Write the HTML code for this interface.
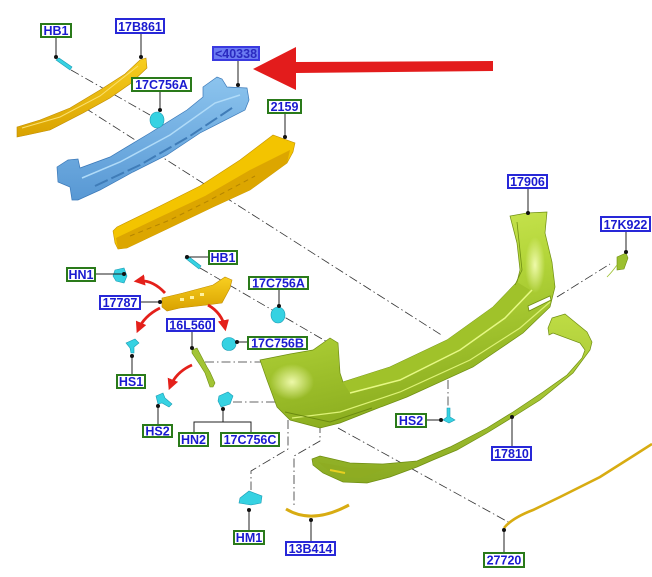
<!DOCTYPE html>
<html><head><meta charset="utf-8"><style>
html,body{margin:0;padding:0;background:#fff;}
svg{display:block;}
text{font-family:"Liberation Sans",Arial,sans-serif;font-weight:bold;font-size:12.5px;fill:#1a1ad0;text-anchor:middle;}
</style></head><body>
<svg width="652" height="577" viewBox="0 0 652 577" xmlns="http://www.w3.org/2000/svg">
<defs>
<linearGradient id="gb" x1="0" y1="0" x2="0.3" y2="1">
<stop offset="0" stop-color="#d6ee5e"/><stop offset="0.45" stop-color="#b4d63a"/><stop offset="1" stop-color="#8aac1e"/>
</linearGradient>
<linearGradient id="gv" x1="0" y1="0" x2="0" y2="1">
<stop offset="0" stop-color="#bedc44"/><stop offset="1" stop-color="#8aaa22"/>
</linearGradient>
<linearGradient id="gblue" x1="0" y1="0" x2="0" y2="1">
<stop offset="0" stop-color="#8cc4ee"/><stop offset="1" stop-color="#5898d4"/>
</linearGradient>
<linearGradient id="gy" x1="0" y1="0" x2="0" y2="1">
<stop offset="0" stop-color="#f8cf20"/><stop offset="1" stop-color="#d9a200"/>
</linearGradient>
<radialGradient id="hl" cx="0.5" cy="0.5" r="0.5">
<stop offset="0" stop-color="#f2fcb0" stop-opacity="0.95"/><stop offset="1" stop-color="#f2fcb0" stop-opacity="0"/>
</radialGradient>
<marker id="ar" viewBox="0 0 10 10" refX="7" refY="5" markerWidth="4" markerHeight="4" orient="auto" markerUnits="strokeWidth">
<path d="M0,0 L10,5 L0,10 Z" fill="#e4201a"/>
</marker>
</defs>

<!-- dash-dot leader lines -->
<g fill="none" stroke="#333" stroke-width="0.8" stroke-dasharray="9 3 1.5 3">
<path d="M71,70 L150,115"/>
<path d="M85,108 L443,336"/>
<path d="M200,268 L329,343"/>
<path d="M205,362 L262,362"/>
<path d="M233,402 L275,402"/>
<path d="M288,420 L288,449 L251,471 L251,490"/>
<path d="M320,424 L320,441 L294,456 L294,508"/>
<path d="M338,428 L510,523"/>
<path d="M448,380 L448,408"/>
<path d="M557,297 L610,264"/>
</g>

<!-- 17B861 top strip -->
<path d="M17,127 L40,120 L70,108 L100,90 L125,74 L140,60 L146,58 L147,68 L130,84 L110,98 L83,113 L50,130 L27,135 L17,137 Z" fill="url(#gy)" stroke="#c08c00" stroke-width="0.6"/>
<path d="M22,128 L60,117 L100,96 L138,66" fill="none" stroke="#fbe070" stroke-width="1"/>

<!-- blue beam -->
<path d="M57,167 L68,160 L78,159 L80,168 L110,157 L150,133 L187,110 L203,97 L203,87 L217,77 L222,79 L227,87 L247,88 L249,100 L245,110 L200,133 L167,155 L133,172 L100,190 L78,200 L72,200 L70,187 L58,182 Z" fill="url(#gblue)" stroke="#3a78b8" stroke-width="0.7"/>
<path d="M82,178 L120,162 L170,135 L215,103 L240,95" fill="none" stroke="#b0dbf8" stroke-width="1.5"/>
<path d="M95,186 L140,165 L190,136 L235,106" fill="none" stroke="#3f7cb8" stroke-width="2" stroke-dasharray="14 4"/>

<!-- 2159 absorber -->
<path d="M113,231 L117,227 L160,206 L200,186 L240,160 L273,135 L295,143 L293,152 L287,163 L250,190 L213,207 L167,229 L127,248 L118,249 L115,243 Z" fill="#f3c400" stroke="#c59400" stroke-width="0.6"/>
<path d="M116,238 L160,217 L205,196 L250,170 L290,150 L287,163 L250,190 L213,207 L167,229 L127,248 L118,249 Z" fill="#dca600"/>
<path d="M130,236 L170,220 L210,200 L255,176" fill="none" stroke="#b58500" stroke-width="1" stroke-dasharray="5 4"/>

<!-- big red arrow -->
<path d="M253,69 L296,47 L296,62 L493,61 L493,71 L296,73 L296,90 Z" fill="#e31c1c"/>

<!-- main bumper 17906 -->
<path d="M260,360 L290,354 L313,350 L330,338 L338,343 L340,373 L343,382 L390,367 L447,340 L493,307 L517,282 L520,270 L517,243 L510,216 L527,213 L547,212 L545,233 L552,262 L555,287 L550,307 L523,333 L473,367 L407,397 L373,410 L340,423 L320,428 L290,420 L277,407 L267,380 Z" fill="url(#gb)" stroke="#6f8e12" stroke-width="0.7"/>
<path d="M343,382 L390,367 L447,340 L493,307 L517,282 L530,290 L505,318 L460,350 L400,380 L350,393 Z" fill="#a0c22a"/>
<path d="M350,393 L400,380 L460,350 L505,318 L532,290" fill="none" stroke="#e6f884" stroke-width="1.5"/>
<path d="M292,418 L340,412 L400,392 L470,360 L520,328 L550,302" fill="none" stroke="#ddf276" stroke-width="1.2"/>
<path d="M285,412 L330,422 L372,408" fill="none" stroke="#6b8a10" stroke-width="1"/>
<ellipse cx="292" cy="382" rx="22" ry="18" fill="url(#hl)"/>
<ellipse cx="535" cy="265" rx="10" ry="28" fill="url(#hl)"/>
<path d="M517,222 L522,270 L515,285" fill="none" stroke="#6f8e12" stroke-width="0.8"/>
<path d="M528,306 L550,296 L551,300 L529,311 Z" fill="#fff" stroke="#6f8e12" stroke-width="0.8"/>

<!-- valance 17810 -->
<path d="M552,318 L565,314 L587,332 L592,342 L590,350 L573,373 L540,400 L513,417 L487,433 L457,450 L433,460 L417,467 L390,477 L367,483 L343,482 L323,473 L313,465 L312,459 L320,456 L350,463 L383,464 L417,461 L450,447 L487,428 L513,412 L543,392 L567,375 L582,358 L585,350 L580,343 L553,333 L549,335 L548,328 Z" fill="url(#gv)" stroke="#6f8e12" stroke-width="0.7"/>
<path d="M318,462 L350,468 L385,469 L360,478 L335,476 Z" fill="#8eac22"/>
<path d="M330,470 L345,473" stroke="#e8d020" stroke-width="2"/>

<!-- 13B414 strip -->
<path d="M286,509 Q312,525 349,505" fill="none" stroke="#d8ac12" stroke-width="3"/>
<!-- 27720 strip -->
<path d="M504,528 Q512,518 533,510 L560,497 L600,477 L652,444" fill="none" stroke="#d8ac12" stroke-width="2.6"/>

<!-- middle bracket 17787 -->
<path d="M162,298 L183,293 L213,285 L225,277 L232,280 L230,288 L222,303 L207,305 L180,308 L167,311 L162,307 Z" fill="url(#gy)" stroke="#c08c00" stroke-width="0.6"/>
<g fill="#fff2a0"><rect x="180" y="298" width="4" height="3"/><rect x="190" y="296" width="4" height="3"/><rect x="200" y="293" width="4" height="3"/></g>

<!-- 16L560 -->
<path d="M192,350 L197,348 L207,367 L210,372 L215,383 L213,387 L210,387 L205,373 L200,365 L192,353 Z" fill="#a2c434" stroke="#6f8e12" stroke-width="0.6"/>

<!-- red curved arrows -->
<g fill="none" stroke="#e4201a" stroke-width="2.8" marker-end="url(#ar)">
<path d="M165,293 Q152,279 137,281"/>
<path d="M160,308 Q144,316 138,330"/>
<path d="M208,305 Q222,313 225,328"/>
<path d="M192,365 Q176,372 170,387"/>
</g>

<!-- cyan clips -->
<g fill="#36d2e2" stroke="#1a9cb4" stroke-width="0.6">
<path d="M56,60 L59,58 L72,67 L70,70 Z"/>
<ellipse cx="157" cy="120" rx="7" ry="8"/>
<path d="M185,258 L188,256 L201,266 L199,269 Z"/>
<path d="M115,270 L124,268 L127,276 L124,283 L116,281 L113,276 Z"/>
<ellipse cx="278" cy="315" rx="7" ry="8"/>
<ellipse cx="229" cy="344" rx="7" ry="6.5"/>
<path d="M126,343 L135,339 L139,343 L134,347 L134,353 L131,353 L130,348 Z"/>
<path d="M156,396 L163,393 L165,398 L172,404 L169,407 L162,403 L158,404 Z"/>
<path d="M219,396 L228,392 L233,396 L230,404 L221,407 L218,401 Z"/>
<path d="M447,408 L450,408 L450,417 L455,420 L449,423 L443,420 L447,417 Z"/>
<path d="M240,498 L249,491 L262,496 L261,503 L251,505 L239,503 Z"/>
</g>
<!-- 17K922 cap -->
<path d="M617,257 L626,253 L628,258 L624,269 L617,270 Z" fill="#9cc030" stroke="#6f8e12" stroke-width="0.6"/>
<path d="M617,265 Q612,272 607,277" fill="none" stroke="#9cc030" stroke-width="0.8"/>

<!-- label leaders -->
<g stroke="#222" stroke-width="1" fill="none">
<path d="M56,37 V57"/><path d="M141,33 V57"/><path d="M238,60 V85"/><path d="M160,91 V110"/>
<path d="M285,113 V137"/><path d="M528,188 V213"/><path d="M626,231 V252"/>
<path d="M187,257 H209"/><path d="M95,274 H124"/><path d="M279,289 V306"/>
<path d="M140,302 H160"/><path d="M192,331 V348"/><path d="M237,342 H248"/>
<path d="M132,375 V356"/><path d="M158,425 V406"/>
<path d="M223,409 V422 M194,433 V422 H251 V433"/>
<path d="M426,420 H441"/><path d="M512,447 V417"/><path d="M249,531 V510"/>
<path d="M311,542 V520"/><path d="M504,553 V530"/>
</g>
<g fill="#111">
<circle cx="56" cy="57" r="2"/><circle cx="141" cy="57" r="2"/><circle cx="238" cy="85" r="2"/><circle cx="160" cy="110" r="2"/>
<circle cx="285" cy="137" r="2"/><circle cx="528" cy="213" r="2"/><circle cx="626" cy="252" r="2"/>
<circle cx="187" cy="257" r="2"/><circle cx="124" cy="274" r="2"/><circle cx="279" cy="306" r="2"/>
<circle cx="160" cy="302" r="2"/><circle cx="192" cy="348" r="2"/><circle cx="237" cy="342" r="2"/>
<circle cx="132" cy="356" r="2"/><circle cx="158" cy="406" r="2"/><circle cx="223" cy="409" r="2"/>
<circle cx="441" cy="420" r="2"/><circle cx="512" cy="417" r="2"/><circle cx="249" cy="510" r="2"/>
<circle cx="311" cy="520" r="2"/><circle cx="504" cy="530" r="2"/>
</g>

<!-- labels -->
<g stroke-width="2">
<rect x="41" y="24" width="30" height="13" fill="#fff" stroke="#2a7a1a"/>
<rect x="116" y="19" width="48" height="14" fill="#fff" stroke="#2828d8"/>
<rect x="213" y="47" width="46" height="13" fill="#6c7cf2" stroke="#3a3ae0"/>
<rect x="132" y="78" width="59" height="13" fill="#fff" stroke="#2a7a1a"/>
<rect x="268" y="100" width="33" height="13" fill="#fff" stroke="#2a7a1a"/>
<rect x="508" y="175" width="39" height="13" fill="#fff" stroke="#2828d8"/>
<rect x="601" y="217" width="49" height="14" fill="#fff" stroke="#2828d8"/>
<rect x="209" y="251" width="28" height="13" fill="#fff" stroke="#2a7a1a"/>
<rect x="67" y="268" width="28" height="13" fill="#fff" stroke="#2a7a1a"/>
<rect x="249" y="277" width="59" height="12" fill="#fff" stroke="#2a7a1a"/>
<rect x="100" y="296" width="40" height="13" fill="#fff" stroke="#2828d8"/>
<rect x="167" y="319" width="47" height="12" fill="#fff" stroke="#2828d8"/>
<rect x="248" y="337" width="59" height="12" fill="#fff" stroke="#2a7a1a"/>
<rect x="117" y="375" width="28" height="13" fill="#fff" stroke="#2a7a1a"/>
<rect x="143" y="425" width="29" height="12" fill="#fff" stroke="#2a7a1a"/>
<rect x="179" y="433" width="29" height="13" fill="#fff" stroke="#2a7a1a"/>
<rect x="221" y="433" width="58" height="13" fill="#fff" stroke="#2a7a1a"/>
<rect x="396" y="414" width="30" height="13" fill="#fff" stroke="#2a7a1a"/>
<rect x="492" y="447" width="39" height="13" fill="#fff" stroke="#2828d8"/>
<rect x="234" y="531" width="30" height="13" fill="#fff" stroke="#2a7a1a"/>
<rect x="286" y="542" width="49" height="13" fill="#fff" stroke="#2828d8"/>
<rect x="484" y="553" width="40" height="14" fill="#fff" stroke="#2a7a1a"/>
</g>
<text x="56" y="35">HB1</text>
<text x="140" y="31">17B861</text>
<text x="236" y="58" style="fill:#2a2ac0">&lt;40338</text>
<text x="161.5" y="89">17C756A</text>
<text x="284.5" y="111">2159</text>
<text x="527.5" y="186">17906</text>
<text x="625.5" y="229">17K922</text>
<text x="223" y="262">HB1</text>
<text x="81" y="279">HN1</text>
<text x="278.5" y="287.5">17C756A</text>
<text x="120" y="307">17787</text>
<text x="190.5" y="329.5">16L560</text>
<text x="277.5" y="347.5">17C756B</text>
<text x="131" y="386">HS1</text>
<text x="157.5" y="435.5">HS2</text>
<text x="193.5" y="444">HN2</text>
<text x="250" y="444">17C756C</text>
<text x="411" y="425">HS2</text>
<text x="511.5" y="458">17810</text>
<text x="249" y="542">HM1</text>
<text x="310.5" y="553">13B414</text>
<text x="504" y="564.5">27720</text>
</svg>
</body></html>
